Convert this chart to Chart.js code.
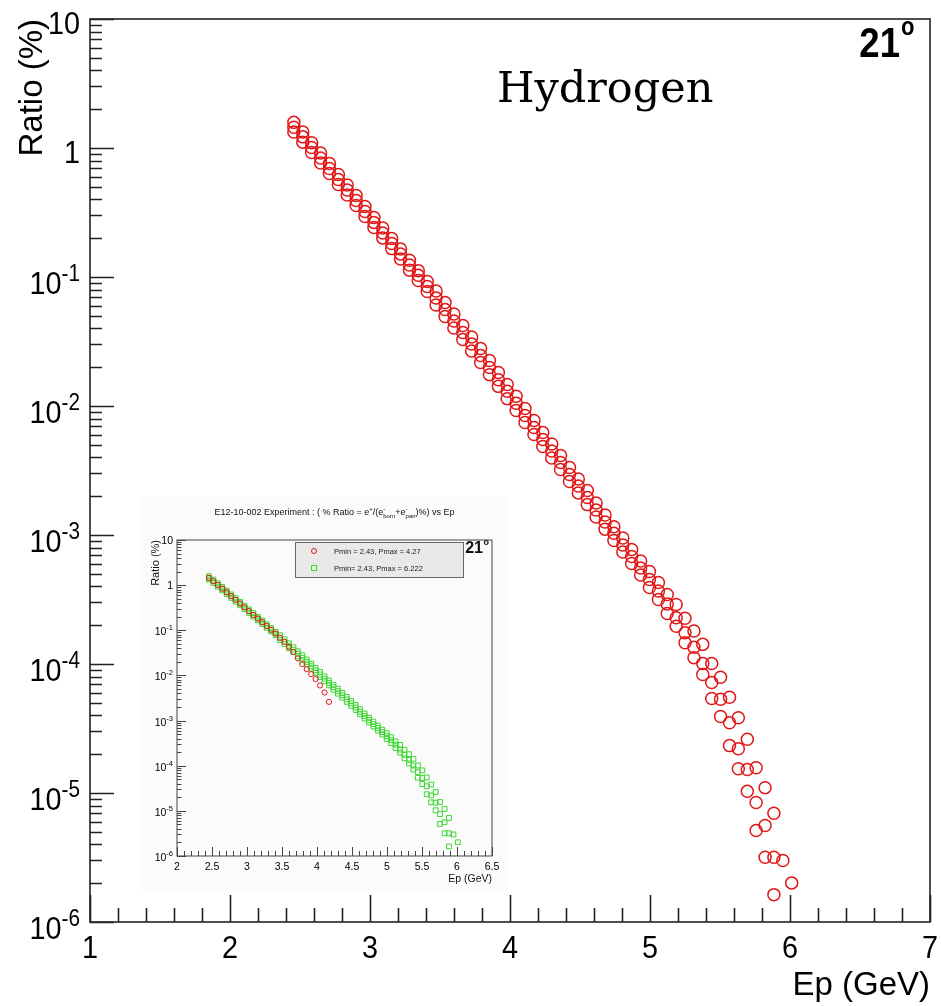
<!DOCTYPE html>
<html lang="en">
<head>
<meta charset="UTF-8">
<title>e+ ratio vs Ep - Hydrogen 21 deg</title>
<style>
    body, html {
        margin: 0;
        padding: 0;
        background: #ffffff;
        overflow: hidden;
    }
    #wrap {
        position: relative;
        width: 941px;
        height: 1006px;
    }
    #mainChart { position: absolute; left: 0; top: 0; }
    /* the small screenshot pasted inside the main pad */
    #insetChart { position: absolute; left: 140px; top: 497px; background: #fbfbfb; }
</style>
</head>
<body>
<div id="wrap">
    <canvas id="mainChart" width="941" height="1006"></canvas>
    <canvas id="insetChart" width="368" height="393"></canvas>
</div>

<script src="https://cdn.jsdelivr.net/npm/chart.js@4"></script>
<script>
    // Ep bin centres (GeV), one column of markers each
    const epColumns = [
        2.456, 2.520, 2.583, 2.647, 2.710, 2.774, 2.837, 2.901, 2.964, 3.028,
        3.091, 3.155, 3.218, 3.282, 3.345, 3.409, 3.472, 3.536, 3.599, 3.663,
        3.726, 3.790, 3.853, 3.917, 3.980, 4.044, 4.107, 4.171, 4.234, 4.298,
        4.361, 4.425, 4.488, 4.552, 4.615, 4.679, 4.742, 4.806, 4.869, 4.933,
        4.996, 5.060, 5.123, 5.187, 5.250, 5.314, 5.377, 5.441, 5.504, 5.568,
        5.631, 5.695, 5.758, 5.822, 5.885, 5.949, 6.012
    ];

    // three samples per column (upper / middle / lower marker), ratio in %
    const ratioSetA = [
        1.58, 1.33, 1.10, 0.915, 0.758, 0.623, 0.516, 0.428, 0.352, 0.289,
        0.240, 0.199, 0.165, 0.135, 0.112, 0.0923, 0.0779, 0.0634, 0.0516, 0.0421,
        0.0343, 0.0279, 0.0225, 0.0182, 0.0147, 0.0119, 0.00956, 0.00772, 0.00623, 0.00508,
        0.00413, 0.00334, 0.00272, 0.00221, 0.00177, 0.00143, 0.00116, 0.000948, 0.000772, 0.000629,
        0.000521, 0.000428, 0.000346, 0.000289, 0.000226, 0.000180, 0.000142, 0.000101, 0.0000790, 0.0000553,
        0.0000383, 0.0000261, 0.0000157, 0.0000110, 0.00000697, 0.00000300, 0.00000201
    ];
    const ratioSetB = [
        1.45, 1.22, 1.01, 0.837, 0.694, 0.570, 0.473, 0.392, 0.322, 0.265,
        0.219, 0.182, 0.151, 0.124, 0.103, 0.0844, 0.0687, 0.0560, 0.0456, 0.0371,
        0.0302, 0.0246, 0.0199, 0.0160, 0.0130, 0.0105, 0.00844, 0.00681, 0.00550, 0.00448,
        0.00365, 0.00294, 0.00240, 0.00195, 0.00156, 0.00126, 0.00103, 0.000837, 0.000681, 0.000555,
        0.000452, 0.000368, 0.000292, 0.000228, 0.000175, 0.000135, 0.000101, 0.0000719, 0.0000533, 0.0000350,
        0.0000220, 0.0000152, 0.00000844, 0.00000560, 0.00000318, null, null
    ];
    const ratioSetC = [
        1.33, 1.11, 0.923, 0.765, 0.634, 0.521, 0.432, 0.358, 0.294, 0.242,
        0.201, 0.166, 0.138, 0.113, 0.0939, 0.0772, 0.0607, 0.0494, 0.0402, 0.0328,
        0.0267, 0.0217, 0.0175, 0.0142, 0.0114, 0.00923, 0.00745, 0.00601, 0.00485, 0.00395,
        0.00322, 0.00260, 0.00212, 0.00172, 0.00138, 0.00111, 0.000907, 0.000738, 0.000601, 0.000490,
        0.000392, 0.000316, 0.000246, 0.000196, 0.000146, 0.000112, 0.0000829, 0.0000540, 0.0000392, 0.0000233,
        0.0000154, 0.0000103, 0.00000512, 0.00000318, 0.00000163, null, null
    ];

    // inset: the Pmax = 4.27 run (red), first 28 columns
    const insetRedRatio = [
        1.45, 1.22, 1.01, 0.837, 0.694, 0.570, 0.473, 0.392, 0.322, 0.265,
        0.219, 0.182, 0.151, 0.124, 0.103, 0.0844, 0.0680, 0.0550, 0.0430, 0.0330,
        0.0240, 0.0178, 0.0138, 0.0107, 0.0083, 0.0060, 0.0042, 0.0026
    ];

    // axis ticks
    const mainXTicks = [1, 2, 3, 4, 5, 6, 7];
    const mainXLabels = ['1', '2', '3', '4', '5', '6', '7'];
    const insetXTicks = [2, 2.5, 3, 3.5, 4, 4.5, 5, 5.5, 6, 6.5];
    const insetXLabels = ['2', '2.5', '3', '3.5', '4', '4.5', '5', '5.5', '6', '6.5'];
    const yTickExps = [1, 0, -1, -2, -3, -4, -5, -6];

    const legendLabels = ['Pmin = 2.43, Pmax = 4.27', 'Pmin= 2.43, Pmax = 6.222'];

    const RED = 'rgb(226, 22, 22)';
    const GREEN = 'rgb(60, 215, 50)';
    const SANS = '"Liberation Sans", Arial, Helvetica, sans-serif';

    function toPoints(xs, ys) {
        const pts = [];
        ys.forEach((y, i) => { if (y !== null) pts.push({ x: xs[i], y: y }); });
        return pts;
    }

    function drawText(ctx, str, x, y, font, align, squeeze) {
        ctx.save();
        ctx.font = font;
        ctx.textAlign = align || 'left';
        ctx.textBaseline = 'alphabetic';
        ctx.translate(x, y);
        ctx.scale(squeeze || 1, 1);
        ctx.fillText(str, 0, 0);
        ctx.restore();
    }

    // "1", "10" or "10" with a raised exponent, right aligned
    function drawPow(ctx, exp, xRight, tickY, c) {
        const base = exp === 0 ? '1' : '10';
        const sup = (exp === 0 || exp === 1) ? '' : String(exp);
        const f1 = c.labelSize + 'px ' + SANS;
        const f2 = c.supSize + 'px ' + SANS;
        ctx.font = f1;
        const wb = ctx.measureText(base).width * c.squeeze;
        ctx.font = f2;
        const ws = sup ? ctx.measureText(sup).width * c.squeeze : 0;
        const x0 = xRight - wb - ws;
        const yb = tickY + (sup ? c.yLabelDySup : c.yLabelDy);
        drawText(ctx, base, x0, yb, f1, 'left', c.squeeze);
        if (sup) drawText(ctx, sup, x0 + wb, yb - c.supRise, f2, 'left', c.squeeze);
    }

    // ROOT style frame: box, inward ticks on left/bottom, tick labels
    function framePlugin(c) {
        return {
            id: 'frame_' + c.name,
            afterDatasetsDraw(chart) {
                const ctx = chart.ctx, a = chart.chartArea;
                const xs = chart.scales.x, ys = chart.scales.y;
                ctx.save();
                ctx.strokeStyle = c.color;
                ctx.lineWidth = c.lineWidth;
                ctx.strokeRect(a.left, a.top, a.right - a.left, a.bottom - a.top);
                ctx.beginPath();
                const n = Math.round((xs.max - xs.min) / c.xMinor);
                for (let k = 0; k <= n; k++) {
                    const v = xs.min + k * c.xMinor;
                    const major = c.xTicks.some(t => Math.abs(t - v) < 1e-6);
                    const px = Math.round(xs.getPixelForValue(v)) + 0.5;
                    ctx.moveTo(px, a.bottom);
                    ctx.lineTo(px, a.bottom - (major ? c.xMajorLen : c.xMinorLen));
                }
                for (let e = -6; e <= 1; e++) {
                    for (let m = 1; m <= 9; m++) {
                        const v = m * Math.pow(10, e);
                        if (v > ys.max * 1.0001) break;
                        const py = Math.round(ys.getPixelForValue(v)) + 0.5;
                        ctx.moveTo(a.left, py);
                        ctx.lineTo(a.left + (m === 1 ? c.yMajorLen : c.yMinorLen), py);
                    }
                }
                ctx.stroke();

                ctx.fillStyle = '#000';
                c.xTicks.forEach((v, i) => {
                    drawText(ctx, c.xLabels[i], xs.getPixelForValue(v), a.bottom + c.xLabelDy,
                        c.labelSize + 'px ' + SANS, 'center', c.squeeze);
                });
                yTickExps.forEach(e => drawPow(ctx, e, a.left - c.yLabelGap, ys.getPixelForValue(Math.pow(10, e)), c));
                ctx.restore();
            }
        };
    }

    const mainLabels = {
        id: 'mainLabels',
        afterDraw(chart) {
            const ctx = chart.ctx, a = chart.chartArea;
            ctx.save();
            ctx.fillStyle = '#000';
            // y title, aligned to the top of the axis
            ctx.translate(42, a.top);
            ctx.rotate(-Math.PI / 2);
            drawText(ctx, 'Ratio (%)', 0, 0, '33px ' + SANS, 'right', 1);
            ctx.restore();
            ctx.save();
            ctx.fillStyle = '#000';
            drawText(ctx, 'Ep (GeV)', a.right, 995, '34px ' + SANS, 'right', 0.97);
            drawText(ctx, 'Hydrogen', 497, 102, '43px "DejaVu Serif", "Liberation Serif", serif', 'left', 1);
            drawText(ctx, '21', 900, 57, 'bold 43px ' + SANS, 'right', 0.85);
            drawText(ctx, 'o', 901, 35, 'bold 26px ' + SANS, 'left', 0.85);
            ctx.restore();
        }
    };

    const insetLabels = {
        id: 'insetLabels',
        afterDraw(chart) {
            const ctx = chart.ctx, a = chart.chartArea;
            ctx.save();
            ctx.fillStyle = '#111';

            // title with e+ / e-born / e-pair
            const segs = [
                { t: 'E12-10-002 Experiment : ( % Ratio = e' }, { sup: '+' },
                { t: '/(e' }, { sup: '-', sub: 'born' },
                { t: '+e' }, { sup: '-', sub: 'pair' },
                { t: ')%) vs Ep' }
            ];
            const big = '9px ' + SANS, small = '6px ' + SANS;
            const widths = segs.map(s => {
                if (s.t) { ctx.font = big; return ctx.measureText(s.t).width; }
                ctx.font = small;
                return Math.max(ctx.measureText(s.sup || '').width, ctx.measureText(s.sub || '').width);
            });
            let x = (a.left + a.right) / 2 - widths.reduce((p, q) => p + q, 0) / 2;
            const ty = 18;
            segs.forEach((s, i) => {
                if (s.t) drawText(ctx, s.t, x, ty, big, 'left', 1);
                else {
                    if (s.sup) drawText(ctx, s.sup, x, ty - 4, small, 'left', 1);
                    if (s.sub) drawText(ctx, s.sub, x, ty + 3, small, 'left', 1);
                }
                x += widths[i];
            });

            // axis titles
            ctx.save();
            ctx.translate(19, a.top);
            ctx.rotate(-Math.PI / 2);
            drawText(ctx, 'Ratio (%)', 0, 0, '11px ' + SANS, 'right', 1);
            ctx.restore();
            drawText(ctx, 'Ep (GeV)', a.right, 385, '10.5px ' + SANS, 'right', 1);

            drawText(ctx, '21', 343, 56, 'bold 16px ' + SANS, 'right', 1);
            drawText(ctx, 'o', 343.5, 48, 'bold 9px ' + SANS, 'left', 1);

            // legend box
            ctx.fillStyle = '#e9e9e9';
            ctx.fillRect(155, 45, 168, 35);
            ctx.strokeStyle = '#666';
            ctx.lineWidth = 1;
            ctx.strokeRect(155.5, 45.5, 168, 35);
            ctx.strokeStyle = RED;
            ctx.beginPath();
            ctx.arc(174, 54, 2.5, 0, Math.PI * 2);
            ctx.stroke();
            ctx.strokeStyle = GREEN;
            ctx.strokeRect(171.5, 68.5, 5, 5);
            ctx.fillStyle = '#222';
            drawText(ctx, legendLabels[0], 194, 56.7, '7.5px ' + SANS, 'left', 1);
            drawText(ctx, legendLabels[1], 194, 73.7, '7.5px ' + SANS, 'left', 1);
            ctx.restore();
        }
    };

    function circleSet(ys) {
        return {
            data: toPoints(epColumns, ys),
            showLine: false,
            pointStyle: 'circle',
            pointRadius: 6,
            pointBorderWidth: 1.5,
            pointBorderColor: RED,
            pointBackgroundColor: 'rgba(0,0,0,0)'
        };
    }

    function squareSet(ys) {
        return {
            data: toPoints(epColumns, ys),
            showLine: false,
            pointStyle: 'rect',
            pointRadius: 3.4,
            pointBorderWidth: 1,
            pointBorderColor: GREEN,
            pointBackgroundColor: 'rgba(0,0,0,0)'
        };
    }

    function baseOptions(xMin, xMax, padding) {
        return {
            responsive: false,
            animation: false,
            devicePixelRatio: 1,
            events: [],
            layout: { padding: padding },
            plugins: { legend: { display: false }, tooltip: { enabled: false } },
            scales: {
                x: { type: 'linear', min: xMin, max: xMax, display: false },
                y: { type: 'logarithmic', min: 1e-6, max: 10, display: false }
            }
        };
    }

    new Chart(document.getElementById('mainChart'), {
        type: 'scatter',
        data: { datasets: [circleSet(ratioSetA), circleSet(ratioSetB), circleSet(ratioSetC)] },
        options: baseOptions(1, 7, { left: 90, right: 11, top: 19, bottom: 84 }),
        plugins: [framePlugin({
            name: 'main', color: '#222', lineWidth: 1.6,
            xTicks: mainXTicks, xLabels: mainXLabels, xMinor: 0.2,
            xMajorLen: 27, xMinorLen: 14, yMajorLen: 24, yMinorLen: 12,
            labelSize: 32, supSize: 23, supRise: 13, squeeze: 0.9,
            xLabelDy: 36, yLabelGap: 10, yLabelDy: 14.5, yLabelDySup: 17
        }), mainLabels]
    });

    // red run shifted a touch so its markers sit beside the green squares
    const redInset = {
        data: toPoints(epColumns, insetRedRatio),
        showLine: false,
        pointStyle: 'circle',
        pointRadius: 2.6,
        pointBorderWidth: 1,
        pointBorderColor: RED,
        pointBackgroundColor: 'rgba(0,0,0,0)'
    };

    new Chart(document.getElementById('insetChart'), {
        type: 'scatter',
        data: { datasets: [redInset, squareSet(ratioSetA), squareSet(ratioSetB), squareSet(ratioSetC)] },
        options: baseOptions(2, 6.5, { left: 37, right: 16, top: 43, bottom: 34 }),
        plugins: [framePlugin({
            name: 'inset', color: '#444', lineWidth: 1,
            xTicks: insetXTicks, xLabels: insetXLabels, xMinor: 0.1,
            xMajorLen: 9, xMinorLen: 5, yMajorLen: 9, yMinorLen: 4.5,
            labelSize: 10.5, supSize: 7.5, supRise: 5, squeeze: 1,
            xLabelDy: 14, yLabelGap: 4, yLabelDy: 4, yLabelDySup: 5
        }), insetLabels]
    });
</script>
</body>
</html>
